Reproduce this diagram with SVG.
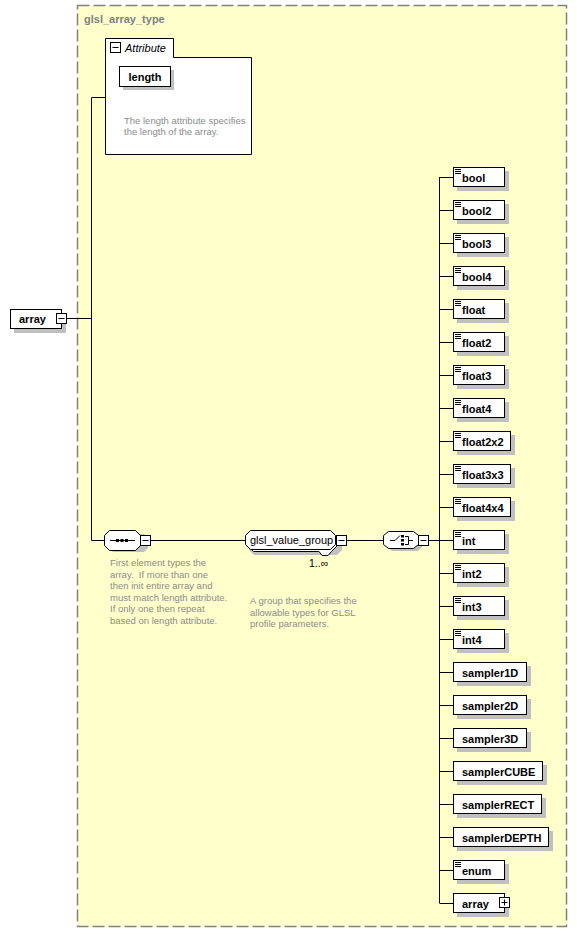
<svg xmlns="http://www.w3.org/2000/svg" width="577" height="935" viewBox="0 0 577 935">
<style>
.t{font-family:"Liberation Sans",Arial,sans-serif}
.lbl{font-family:"Liberation Sans",Arial,sans-serif;font-size:11px;font-weight:bold;fill:#000}
.desc{font-family:"Liberation Sans",Arial,sans-serif;font-size:9.5px;fill:#8c8c8c}
.box{fill:#fff;stroke:#000;stroke-width:1}
.sh{fill:#c0c0c0}
.ln{stroke:#000;stroke-width:1;fill:none}
.ic{stroke:#000;stroke-width:1}
</style>
<defs>
<g id="minus"><rect x="0.5" y="0.5" width="10" height="10" fill="#fff" stroke="#000"/><line x1="2.5" y1="5.5" x2="8.5" y2="5.5" stroke="#000"/></g>
<g id="plus"><rect x="0.5" y="0.5" width="10" height="10" fill="#fff" stroke="#000"/><line x1="2.5" y1="5.5" x2="8.5" y2="5.5" stroke="#000"/><line x1="5.5" y1="2.5" x2="5.5" y2="8.5" stroke="#000"/></g>
<g id="simple"><line x1="0" y1="0.5" x2="6" y2="0.5" stroke="#000"/><line x1="0" y1="2.5" x2="6" y2="2.5" stroke="#000"/><line x1="0" y1="4.5" x2="6" y2="4.5" stroke="#000"/></g>
</defs>
<rect width="577" height="935" fill="#fff"/>
<g id="glsl_array_type">
<rect x="77.5" y="5.5" width="489" height="921" fill="#ffffcc" stroke="#808080" stroke-width="1.5" stroke-dasharray="12,4"/>
<text x="84" y="23" class="t" font-size="11" font-weight="bold" fill="#808080">glsl_array_type</text>
</g>
<g id="connectors">
<polyline class="ln" points="105,97.5 91.5,97.5 91.5,540.5 105,540.5"/>
<line class="ln" x1="67" y1="318.5" x2="91.5" y2="318.5"/>
<line class="ln" x1="151" y1="540.5" x2="245" y2="540.5"/>
<line class="ln" x1="347" y1="540.5" x2="384" y2="540.5"/>
<line class="ln" x1="429" y1="540.5" x2="439.5" y2="540.5"/>
<line class="ln" x1="439.5" y1="177" x2="439.5" y2="903"/>
<g id="child-links">
<line class="ln" x1="439.5" y1="177.5" x2="453" y2="177.5"/>
<line class="ln" x1="439.5" y1="210.5" x2="453" y2="210.5"/>
<line class="ln" x1="439.5" y1="243.5" x2="453" y2="243.5"/>
<line class="ln" x1="439.5" y1="276.5" x2="453" y2="276.5"/>
<line class="ln" x1="439.5" y1="309.5" x2="453" y2="309.5"/>
<line class="ln" x1="439.5" y1="342.5" x2="453" y2="342.5"/>
<line class="ln" x1="439.5" y1="375.5" x2="453" y2="375.5"/>
<line class="ln" x1="439.5" y1="408.5" x2="453" y2="408.5"/>
<line class="ln" x1="439.5" y1="441.5" x2="453" y2="441.5"/>
<line class="ln" x1="439.5" y1="474.5" x2="453" y2="474.5"/>
<line class="ln" x1="439.5" y1="507.5" x2="453" y2="507.5"/>
<line class="ln" x1="439.5" y1="540.5" x2="453" y2="540.5"/>
<line class="ln" x1="439.5" y1="573.5" x2="453" y2="573.5"/>
<line class="ln" x1="439.5" y1="606.5" x2="453" y2="606.5"/>
<line class="ln" x1="439.5" y1="639.5" x2="453" y2="639.5"/>
<line class="ln" x1="439.5" y1="672.5" x2="453" y2="672.5"/>
<line class="ln" x1="439.5" y1="705.5" x2="453" y2="705.5"/>
<line class="ln" x1="439.5" y1="738.5" x2="453" y2="738.5"/>
<line class="ln" x1="439.5" y1="771.5" x2="453" y2="771.5"/>
<line class="ln" x1="439.5" y1="804.5" x2="453" y2="804.5"/>
<line class="ln" x1="439.5" y1="837.5" x2="453" y2="837.5"/>
<line class="ln" x1="439.5" y1="870.5" x2="453" y2="870.5"/>
<line class="ln" x1="439.5" y1="903.5" x2="453" y2="903.5"/>
</g>
</g>
<g id="attributes">
<path d="M105.5,57.5 V38.5 H173.5 V57.5 H251.5 V154.5 H105.5 Z" class="box"/>
<use href="#minus" x="110" y="42"/>
<text x="125" y="52" class="t" font-size="11" font-style="italic" fill="#000">Attribute</text>
<g id="attr-length">
<rect x="123" y="70" width="51" height="20" class="sh"/>
<rect x="119.5" y="66.5" width="51" height="20" class="box"/>
<text x="145" y="80.5" class="lbl" text-anchor="middle">length</text>
</g>
<text class="desc"><tspan x="124" y="124">The length attribute specifies</tspan><tspan x="124" y="135">the length of the array.</tspan></text>
</g>
<g id="root-array">
<rect x="14" y="313" width="52" height="20" class="sh"/>
<rect x="10.5" y="309.5" width="51" height="19" class="box"/>
<text x="19" y="323" class="lbl">array</text>
<use href="#minus" x="56" y="313"/>
</g>
<g id="sequence">
<path d="M113,534 H144 L148,538 V548 L144,552 H113 L109,548 V538 Z" class="sh"/>
<path d="M109.5,530.5 H135.5 L140.5,535.5 V545.5 L135.5,550.5 H109.5 L104.5,545.5 V535.5 Z" class="box"/>
<line class="ic" x1="110" y1="540.5" x2="135" y2="540.5"/>
<rect x="116" y="539" width="3" height="3" fill="#000"/>
<rect x="120.5" y="539" width="3" height="3" fill="#000"/>
<rect x="125" y="539" width="3" height="3" fill="#000"/>
<use href="#minus" x="140" y="535"/>
<text class="desc"><tspan x="110" y="566">First element types the</tspan><tspan x="110" y="577.5">array.&#160; If more than one</tspan><tspan x="110" y="589">then init entire array and</tspan><tspan x="110" y="600.5">must match length attribute.</tspan><tspan x="110" y="612">If only one then repeat</tspan><tspan x="110" y="623.5">based on length attribute.</tspan></text>
</g>
<g id="glsl_value_group">
<path d="M254,537 H337 L342,542 V550 L337,555 H254 L249,550 V542 Z" class="sh"/>
<path d="M253.5,533.5 H331.5 L336.5,538.5 V546.5 L331.5,551.5 L328,555.5 L322,555.5 L319,551.5 H253.5 L248.5,546.5 V538.5 Z" class="box"/>
<path d="M250.5,530.5 H330.5 L335.5,535.5 V544.5 L330.5,549.5 H250.5 L245.5,544.5 V535.5 Z" class="box"/>
<text x="250" y="544" class="t" font-size="11" fill="#000">glsl_value_group</text>
<use href="#minus" x="336" y="535"/>
<text x="309" y="567" class="t" font-size="10.5" fill="#000">1..∞</text>
<text class="desc"><tspan x="250" y="604">A group that specifies the</tspan><tspan x="250" y="615.5">allowable types for GLSL</tspan><tspan x="250" y="627">profile parameters.</tspan></text>
</g>
<g id="choice">
<path d="M392,535 H418 L422,539 V547 L418,551 H392 L388,547 V539 Z" class="sh"/>
<path d="M388.5,531.5 H413.5 L418.5,535.5 V544.5 L413.5,548.5 H388.5 L383.5,544.5 V535.5 Z" class="box"/>
<line class="ic" x1="390" y1="540.5" x2="395" y2="540.5"/>
<line class="ic" x1="395" y1="540.5" x2="400" y2="535.5"/>
<rect x="401" y="535" width="3" height="2.5" fill="#000"/>
<rect x="401" y="539" width="3" height="2.5" fill="#000"/>
<rect x="401" y="543" width="3" height="2.5" fill="#000"/>
<polyline class="ln" points="405,536.5 408.5,536.5 408.5,544.5 405,544.5"/>
<line class="ic" x1="408.5" y1="540.5" x2="413" y2="540.5"/>
<use href="#minus" x="418" y="535"/>
</g>
<g id="children">
<g id="el-bool"><rect x="457" y="171" width="52" height="20" class="sh"/><rect x="453.5" y="167.5" width="51" height="19" class="box"/><use href="#simple" x="455" y="169"/><text x="462" y="181.5" class="lbl">bool</text></g>
<g id="el-bool2"><rect x="457" y="204" width="52" height="20" class="sh"/><rect x="453.5" y="200.5" width="51" height="19" class="box"/><use href="#simple" x="455" y="202"/><text x="462" y="214.5" class="lbl">bool2</text></g>
<g id="el-bool3"><rect x="457" y="237" width="52" height="20" class="sh"/><rect x="453.5" y="233.5" width="51" height="19" class="box"/><use href="#simple" x="455" y="235"/><text x="462" y="247.5" class="lbl">bool3</text></g>
<g id="el-bool4"><rect x="457" y="270" width="52" height="20" class="sh"/><rect x="453.5" y="266.5" width="51" height="19" class="box"/><use href="#simple" x="455" y="268"/><text x="462" y="280.5" class="lbl">bool4</text></g>
<g id="el-float"><rect x="457" y="303" width="52" height="20" class="sh"/><rect x="453.5" y="299.5" width="51" height="19" class="box"/><use href="#simple" x="455" y="301"/><text x="462" y="313.5" class="lbl">float</text></g>
<g id="el-float2"><rect x="457" y="336" width="52" height="20" class="sh"/><rect x="453.5" y="332.5" width="51" height="19" class="box"/><use href="#simple" x="455" y="334"/><text x="462" y="346.5" class="lbl">float2</text></g>
<g id="el-float3"><rect x="457" y="369" width="52" height="20" class="sh"/><rect x="453.5" y="365.5" width="51" height="19" class="box"/><use href="#simple" x="455" y="367"/><text x="462" y="379.5" class="lbl">float3</text></g>
<g id="el-float4"><rect x="457" y="402" width="52" height="20" class="sh"/><rect x="453.5" y="398.5" width="51" height="19" class="box"/><use href="#simple" x="455" y="400"/><text x="462" y="412.5" class="lbl">float4</text></g>
<g id="el-float2x2"><rect x="457" y="435" width="58" height="20" class="sh"/><rect x="453.5" y="431.5" width="57" height="19" class="box"/><use href="#simple" x="455" y="433"/><text x="462" y="445.5" class="lbl">float2x2</text></g>
<g id="el-float3x3"><rect x="457" y="468" width="58" height="20" class="sh"/><rect x="453.5" y="464.5" width="57" height="19" class="box"/><use href="#simple" x="455" y="466"/><text x="462" y="478.5" class="lbl">float3x3</text></g>
<g id="el-float4x4"><rect x="457" y="501" width="58" height="20" class="sh"/><rect x="453.5" y="497.5" width="57" height="19" class="box"/><use href="#simple" x="455" y="499"/><text x="462" y="511.5" class="lbl">float4x4</text></g>
<g id="el-int"><rect x="457" y="534" width="52" height="20" class="sh"/><rect x="453.5" y="530.5" width="51" height="19" class="box"/><use href="#simple" x="455" y="532"/><text x="462" y="544.5" class="lbl">int</text></g>
<g id="el-int2"><rect x="457" y="567" width="52" height="20" class="sh"/><rect x="453.5" y="563.5" width="51" height="19" class="box"/><use href="#simple" x="455" y="565"/><text x="462" y="577.5" class="lbl">int2</text></g>
<g id="el-int3"><rect x="457" y="600" width="52" height="20" class="sh"/><rect x="453.5" y="596.5" width="51" height="19" class="box"/><use href="#simple" x="455" y="598"/><text x="462" y="610.5" class="lbl">int3</text></g>
<g id="el-int4"><rect x="457" y="633" width="52" height="20" class="sh"/><rect x="453.5" y="629.5" width="51" height="19" class="box"/><use href="#simple" x="455" y="631"/><text x="462" y="643.5" class="lbl">int4</text></g>
<g id="el-sampler1D"><rect x="457" y="666" width="74" height="20" class="sh"/><rect x="453.5" y="662.5" width="73" height="19" class="box"/><text x="462" y="676.5" class="lbl">sampler1D</text></g>
<g id="el-sampler2D"><rect x="457" y="699" width="74" height="20" class="sh"/><rect x="453.5" y="695.5" width="73" height="19" class="box"/><text x="462" y="709.5" class="lbl">sampler2D</text></g>
<g id="el-sampler3D"><rect x="457" y="732" width="74" height="20" class="sh"/><rect x="453.5" y="728.5" width="73" height="19" class="box"/><text x="462" y="742.5" class="lbl">sampler3D</text></g>
<g id="el-samplerCUBE"><rect x="457" y="765" width="90" height="20" class="sh"/><rect x="453.5" y="761.5" width="89" height="19" class="box"/><text x="462" y="775.5" class="lbl">samplerCUBE</text></g>
<g id="el-samplerRECT"><rect x="457" y="798" width="89" height="20" class="sh"/><rect x="453.5" y="794.5" width="88" height="19" class="box"/><text x="462" y="808.5" class="lbl">samplerRECT</text></g>
<g id="el-samplerDEPTH"><rect x="457" y="831" width="96" height="20" class="sh"/><rect x="453.5" y="827.5" width="95" height="19" class="box"/><text x="462" y="841.5" class="lbl">samplerDEPTH</text></g>
<g id="el-enum"><rect x="457" y="864" width="52" height="20" class="sh"/><rect x="453.5" y="860.5" width="51" height="19" class="box"/><use href="#simple" x="455" y="862"/><text x="462" y="874.5" class="lbl">enum</text></g>
<g id="el-array"><rect x="457" y="897" width="52" height="20" class="sh"/><rect x="453.5" y="893.5" width="51" height="19" class="box"/><text x="462" y="907.5" class="lbl">array</text><use href="#plus" x="499" y="897"/></g>
</g>
</svg>
